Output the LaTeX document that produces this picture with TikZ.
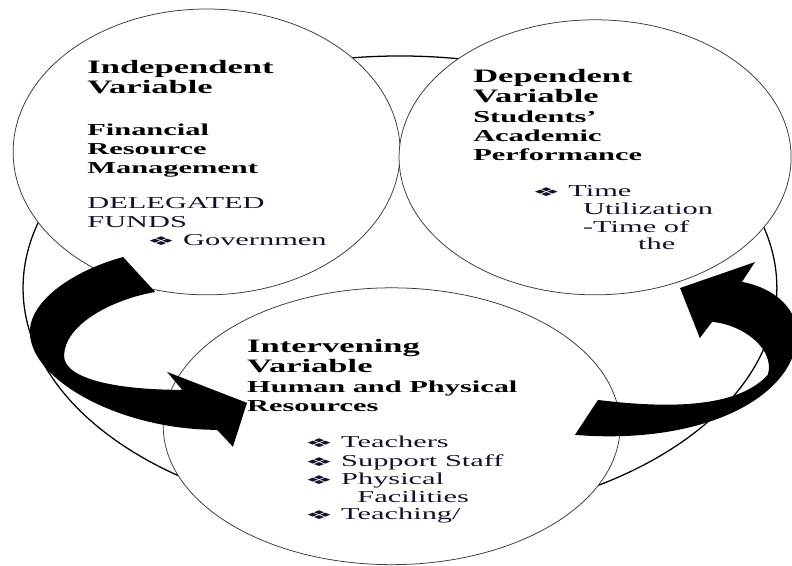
\documentclass[tikz,border=0pt]{standalone}
\usepackage{fontspec}
\setmainfont{Liberation Serif}[FakeStretch=1.82]
\newfontfamily\dingfont{DejaVu Sans}[FakeStretch=2.6]
\usepackage{tikz}
\usetikzlibrary{shapes.geometric}
\definecolor{TextNavy}{HTML}{10142A}
\definecolor{EdgeGray}{HTML}{3A3A3A}
\newcommand{\itm}{\makebox[1cm][l]{\dingfont\fontsize{9.5}{9.5}\selectfont ❖}}

\begin{document}
\begin{tikzpicture}[
  ring/.style={ellipse, draw=EdgeGray, fill=white, line width=0.6pt, inner sep=0pt},
  vname/.style={anchor=base west, inner sep=0pt, font=\bfseries\fontsize{15}{17}\selectfont},
  vhead/.style={anchor=base west, inner sep=0pt, font=\bfseries\fontsize{13.2}{15}\selectfont},
  vtxt/.style={anchor=base west, inner sep=0pt, text=TextNavy, font=\fontsize{13.2}{15}\selectfont},
  blk/.style={fill=black, draw=none},
]
  \useasboundingbox (0,0) rectangle (22,15.72);

  % Frame ellipse
  \node[ellipse, draw, line width=1pt, inner sep=0pt,
        minimum width=20.94cm, minimum height=12.89cm] (frame) at (11.11,7.72) {};

  % Variable circles
  \node[ring, minimum width=10.75cm, minimum height=7.94cm] (ind) at (5.74,11.5) {};
  \node[ring, minimum width=10.89cm, minimum height=7.64cm] (dep) at (16.53,11.35) {};
  \node[ring, minimum width=12.69cm, minimum height=7.69cm] (int) at (10.88,3.88) {};

  % Block arrows
  \fill[blk] (3.42,8.58) .. controls (2.08,8.22) and (0.83,7.39) .. (0.83,6.5)
    .. controls (0.83,5.17) and (3.33,3.78) .. (6.03,3.78)
    -- (6.47,3.31) -- (6.86,4.53) -- (4.64,5.39) -- (5.06,4.89)
    .. controls (3.33,4.89) and (1.75,5.17) .. (1.78,5.86)
    .. controls (1.81,6.69) and (3.06,7.39) .. (4.31,7.61) -- cycle;
  \fill[blk] (16.61,4.61) .. controls (18.89,4.33) and (20.56,4.47) .. (21.33,5.31)
    .. controls (21.53,6.0) and (20.69,6.69) .. (19.78,6.78)
    -- (19.44,6.33) -- (18.89,7.72) -- (20.97,8.44) -- (20.61,7.89)
    .. controls (21.53,7.72) and (22.22,7.11) .. (22.14,6.28)
    .. controls (21.94,4.61) and (19.44,3.36) .. (15.97,3.64) -- cycle;

  % Independent
  \foreach \t [count=\i from 0] in {Independent,Variable}
    \node[vname] (indA\i) at (2.42,13.69-0.58*\i) {\t};
  \foreach \t [count=\i from 0] in {Financial,Resource,Management}
    \node[vhead] (indB\i) at (2.42,11.97-0.53*\i) {\t};
  \foreach \t [count=\i from 0] in {DELEGATED,FUNDS}
    \node[vtxt] (indC\i) at (2.42,9.92-0.53*\i) {\t};
  \node[vtxt] (indD) at (4.08,8.89) {\itm Governmen};

  % Dependent
  \foreach \t [count=\i from 0] in {Dependent,Variable}
    \node[vname] (depA\i) at (13.14,13.44-0.58*\i) {\t};
  \foreach \t [count=\i from 0] in {Students',Academic,Performance}
    \node[vhead] (depB\i) at (13.14,12.31-0.52*\i) {\t};
  \foreach \x/\y/\t [count=\i] in {14.78/10.25/{\itm Time},16.19/9.75/Utilization,
      16.19/9.25/-Time of,17.72/8.78/the}
    \node[vtxt] (depC\i) at (\x,\y) {\t};

  % Intervening
  \foreach \t [count=\i from 0] in {Intervening,Variable}
    \node[vname] (intA\i) at (6.86,5.94-0.58*\i) {\t};
  \foreach \t [count=\i from 0] in {Human and Physical,Resources}
    \node[vhead] (intB\i) at (6.86,4.81-0.53*\i) {\t};
  \foreach \x/\y/\t [count=\i] in {8.47/3.28/{\itm Teachers},8.47/2.75/{\itm Support Staff},
      8.47/2.25/{\itm Physical},9.92/1.75/Facilities,8.47/1.28/{\itm Teaching/}}
    \node[vtxt] (intC\i) at (\x,\y) {\t};
\end{tikzpicture}
\end{document}
